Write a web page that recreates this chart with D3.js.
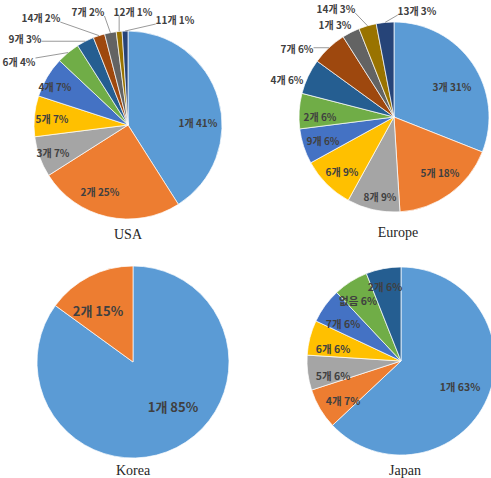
<!DOCTYPE html>
<html>
<head>
<meta charset="utf-8">
<script src="https://cdn.jsdelivr.net/npm/d3@7"></script>
<style>
  body { margin: 0; background: #fff; }
  svg { display: block; }
</style>
</head>
<body>
<svg id="chart"></svg>
<script>
// slice names and shares (%) for each region, clockwise from 12 o'clock
const usaNames = ["1개","2개","3개","5개","4개","6개","9개","14개","7개","12개","11개"];
const usaShares = [41,25,7,7,7,4,3,2,2,1,1];

const europeNames = ["3개","5개","8개","6개","9개","2개","4개","7개","1개","14개","13개"];
const europeShares = [31,18,9,9,6,6,6,6,3,3,3];

const koreaNames = ["1개","2개"];
const koreaShares = [85,15];

const japanNames = ["1개","4개","5개","6개","7개","없음","2개"];
const japanShares = [63,7,6,6,6,6,6];

const titles = ["USA","Europe","Korea","Japan"];

// office palette
const palette = ["#5B9BD5","#ED7D31","#A5A5A5","#FFC000","#4472C4","#70AD47",
                 "#255E91","#9E480E","#636363","#997300","#264478"];

// where each pie sits, and where the labels go (offsets from the pie centre)
const layout = [
  {names: usaNames, shares: usaShares, cx: 128, cy: 125, r: 94, tx: 128, ty: 239, fs: 10,
   spots: [[70,-2],[-28,67],[-75,28],[-76,-6],[-73,-38],[-109,-63],[-103,-86],[-87,-107],[-40,-113],[5,-113],[47,-105]]},
  {names: europeNames, shares: europeShares, cx: 394, cy: 117, r: 95, tx: 398, ty: 237, fs: 10,
   spots: [[58,-30],[46,56],[-14,80],[-52,55],[-71,24],[-74,0],[-107,-37],[-97,-68],[-59,-92],[-58,-108],[23,-106]]},
  {names: koreaNames, shares: koreaShares, cx: 133, cy: 362, r: 96, tx: 133, ty: 475, fs: 13,
   spots: [[40,45],[-35,-51]]},
  {names: japanNames, shares: japanShares, cx: 401, cy: 361, r: 94, tx: 405, ty: 475, fs: 10.5,
   spots: [[59,26],[-58,40],[-68,15],[-68,-12],[-58,-37],[-43,-60],[-16,-74]]}
];

const svg = d3.select("#chart")
  .attr("width", 491)
  .attr("height", 478);

const pie = d3.pie().sort(null).value(d => d.v);
const color = d3.scaleOrdinal().domain(d3.range(palette.length)).range(palette);

layout.forEach(function(c, ci) {
  const rows = c.names.map((n, i) => ({name: n, v: c.shares[i], i: i}));
  const arcs = pie(rows);
  const arc = d3.arc().innerRadius(0).outerRadius(c.r);

  const g = svg.append("g").attr("transform", "translate(" + c.cx + "," + c.cy + ")");

  g.selectAll("path.slice")
    .data(arcs)
    .enter()
    .append("path")
    .attr("class", "slice")
    .attr("d", arc)
    .attr("fill", d => color(d.data.i))
    .attr("stroke", "#fff")
    .attr("stroke-width", 0.7);

  // leader lines for the labels that sit outside the pie
  const outside = arcs.filter(d => Math.hypot(c.spots[d.index][0], c.spots[d.index][1]) > c.r);

  g.selectAll("path.leader")
    .data(outside)
    .enter()
    .append("path")
    .attr("class", "leader")
    .attr("fill", "none")
    .attr("stroke", "#9a9a9a")
    .attr("stroke-width", 1)
    .attr("d", function(d) {
      const s = c.spots[d.index];
      const mid = (d.startAngle + d.endAngle) / 2;
      const px = Math.sin(mid) * c.r, py = -Math.cos(mid) * c.r;
      const w = (d.data.name.length + 4) * c.fs * 0.55;
      const qx = Math.max(s[0] - w / 2, Math.min(s[0] + w / 2, px));
      const qy = Math.max(s[1] - c.fs / 2 + 1, Math.min(s[1] + c.fs / 2 - 1, py));
      if (Math.hypot(px - qx, py - qy) < 5) return null;
      return "M" + qx + "," + qy + "L" + px + "," + py;
    });

  g.selectAll("text.lab")
    .data(arcs)
    .enter()
    .append("text")
    .attr("class", "lab")
    .attr("x", d => c.spots[d.index][0])
    .attr("y", d => c.spots[d.index][1])
    .attr("dy", "0.36em")
    .attr("text-anchor", "middle")
    .attr("font-family", "'Noto Sans CJK KR', sans-serif")
    .attr("font-weight", "bold")
    .attr("font-size", c.fs + "px")
    .attr("fill", "#404040")
    .text(d => d.data.name + " " + d.data.v + "%");

  svg.append("text")
    .attr("x", c.tx)
    .attr("y", c.ty)
    .attr("text-anchor", "middle")
    .attr("font-family", "'Liberation Serif', serif")
    .attr("font-size", "14px")
    .attr("fill", "#262626")
    .text(titles[ci]);
});
</script>
</body>
</html>
